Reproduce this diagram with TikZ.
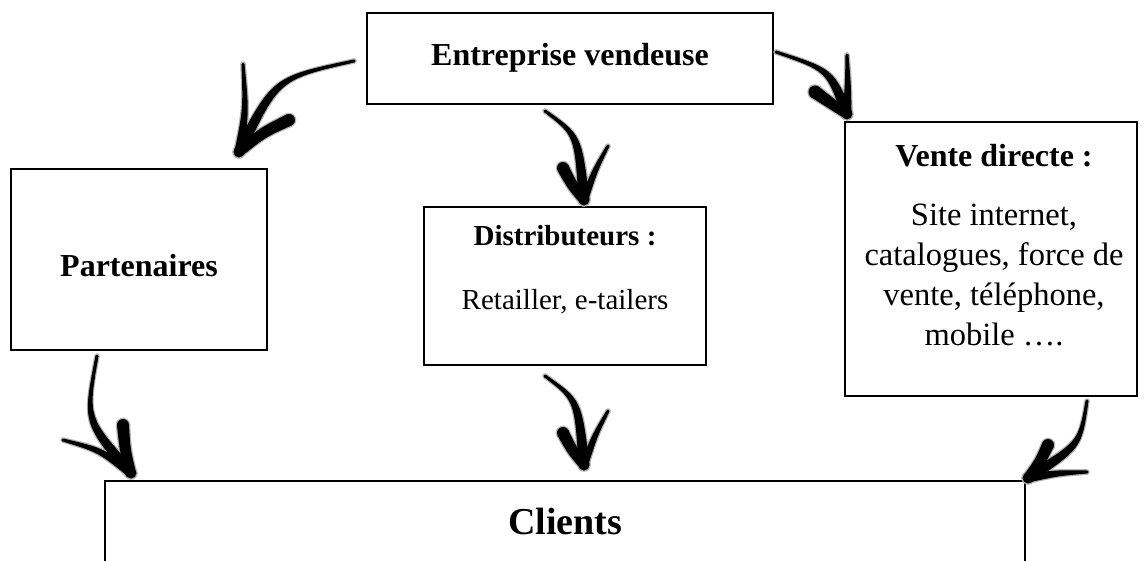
\documentclass[tikz,border=0pt]{standalone}
\usepackage{fontspec}
\setmainfont{Liberation Serif}
\usetikzlibrary{calc}
% tapered brush stroke: #1 start, #2 control, #3 end, #4 width at start, #5 width at end, #6 style
\newcommand\brushpass[6]{%
  \pgfmathsetmacro\bwa{#4*0.5}%
  \pgfmathsetmacro\bwb{#5*0.5}%
  \pgfmathsetmacro\bwc{(#4+#5)*0.25}%
  \fill[#6] ($(#1)!\bwa pt!90:(#2)$) .. controls ($(#2)!\bwc pt!90:(#3)$) .. ($(#3)!\bwb pt!-90:(#2)$)
     -- ($(#3)!\bwb pt!90:(#2)$) .. controls ($(#2)!\bwc pt!-90:(#3)$) .. ($(#1)!\bwa pt!-90:(#2)$) -- cycle;
  \fill[#6] (#1) circle[radius=\bwa pt];
  \fill[#6] (#3) circle[radius=\bwb pt];
}
% all the hand-drawn arrows, drawn with extra width #1 and style #2
\newcommand\allbrusharrows[2]{%
  \def\bx##1##2##3##4##5{\pgfmathsetmacro\bxa{##4+#1}\pgfmathsetmacro\bxb{##5+#1}\brushpass{##1}{##2}{##3}{\bxa}{\bxb}{#2}}%
  % arrow 1: entreprise -> partenaires
  \bx{a1s}{276,78}{a1t}{3}{11}
  \bx{243,64}{246,110}{a1t}{3}{9}
  \bx{289,120}{262,133}{a1t}{12}{10}
  % arrow 2: entreprise -> distributeurs
  \bx{a2s}{578,135}{a2t}{3}{11}
  \bx{563,168}{572,185}{a2t}{12}{10}
  \bx{608,146}{595,170}{a2t}{3}{8}
  % arrow 3: entreprise -> vente directe
  \bx{a3s}{830,70}{a3t}{3}{11}
  \bx{815,92}{830,103}{a3t}{13}{10}
  \bx{847,55}{848,85}{a3t}{3}{9}
  % arrow 4: partenaires -> clients
  \bx{a4s}{85,420}{a4t}{3}{11}
  \bx{63,440}{100,450}{a4t}{3}{9}
  \bx{123,425}{125,450}{a4t}{12}{10}
  % arrow 5: distributeurs -> clients
  \bx{a5s}{578,400}{a5t}{3}{11}
  \bx{563,433}{572,450}{a5t}{12}{10}
  \bx{608,411}{595,435}{a5t}{3}{8}
  % arrow 6: vente directe -> clients
  \bx{a6s}{1080,445}{a6t}{3}{11}
  \bx{1048,445}{1040,462}{a6t}{12}{10}
  \bx{1087,472}{1058,473}{a6t}{3}{9}
}
\begin{document}
\begin{tikzpicture}[x=1pt,y=-1pt,
  box/.style={draw=black, line width=2pt, rectangle, inner sep=0pt},
  headb/.style={font=\fontsize{32}{37}\selectfont\bfseries, inner sep=0pt},
  smallb/.style={font=\fontsize{29}{34}\selectfont\bfseries, inner sep=0pt},
  smallr/.style={font=\fontsize{29}{34}\selectfont, inner sep=0pt},
  bodyr/.style={font=\fontsize{32.5}{40}\selectfont, inner sep=0pt, align=center},
  bigb/.style={font=\fontsize{38}{44}\selectfont\bfseries, inner sep=0pt},
  brushcol/.style={fill=black},
  brushhalo/.style={fill=black!30}]
\useasboundingbox (0,0) rectangle (1144,560);
\fill[white] (0,0) rectangle (1144,560);
\clip (0,0) rectangle (1144,560);

% boxes
\node[box, minimum width=406pt, minimum height=91pt] (ent) at (570,58.5) {};
\node[headb] (entt) at (570,58) {Entreprise vendeuse};

\node[box, minimum width=256pt, minimum height=181pt] (part) at (139,259.5) {};
\node[headb] (partt) at (139,266) {Partenaires};

\node[box, minimum width=282pt, minimum height=158pt] (dist) at (565,286) {};
\node[smallb] (distt) at (565,236) {Distributeurs :};
\node[smallr] (distb) at (565,302) {Retailler, e-tailers};

\node[box, minimum width=292pt, minimum height=274pt] (vente) at (991,259) {};
\node[headb] (ventet) at (994,156) {Vente directe :};
\node[bodyr] (venteb) at (994,275) {Site internet,\\catalogues, force de\\vente, téléphone,\\mobile ….};

\node[box, minimum width=920pt, minimum height=140pt] (cli) at (565,551) {};
\node[bigb] (clit) at (565,521) {Clients};

% arrow end points
\coordinate (a1s) at (354,61);   \coordinate (a1t) at (239,152);
\coordinate (a2s) at (545,111);  \coordinate (a2t) at (584,200);
\coordinate (a3s) at (776,52);   \coordinate (a3t) at (847,114);
\coordinate (a4s) at (97,356);   \coordinate (a4t) at (131,473);
\coordinate (a5s) at (545,376);  \coordinate (a5t) at (584,465);
\coordinate (a6s) at (1087,401); \coordinate (a6t) at (1028,478);

\allbrusharrows{2.5}{brushhalo}
\allbrusharrows{0}{brushcol}
\end{tikzpicture}
\end{document}
